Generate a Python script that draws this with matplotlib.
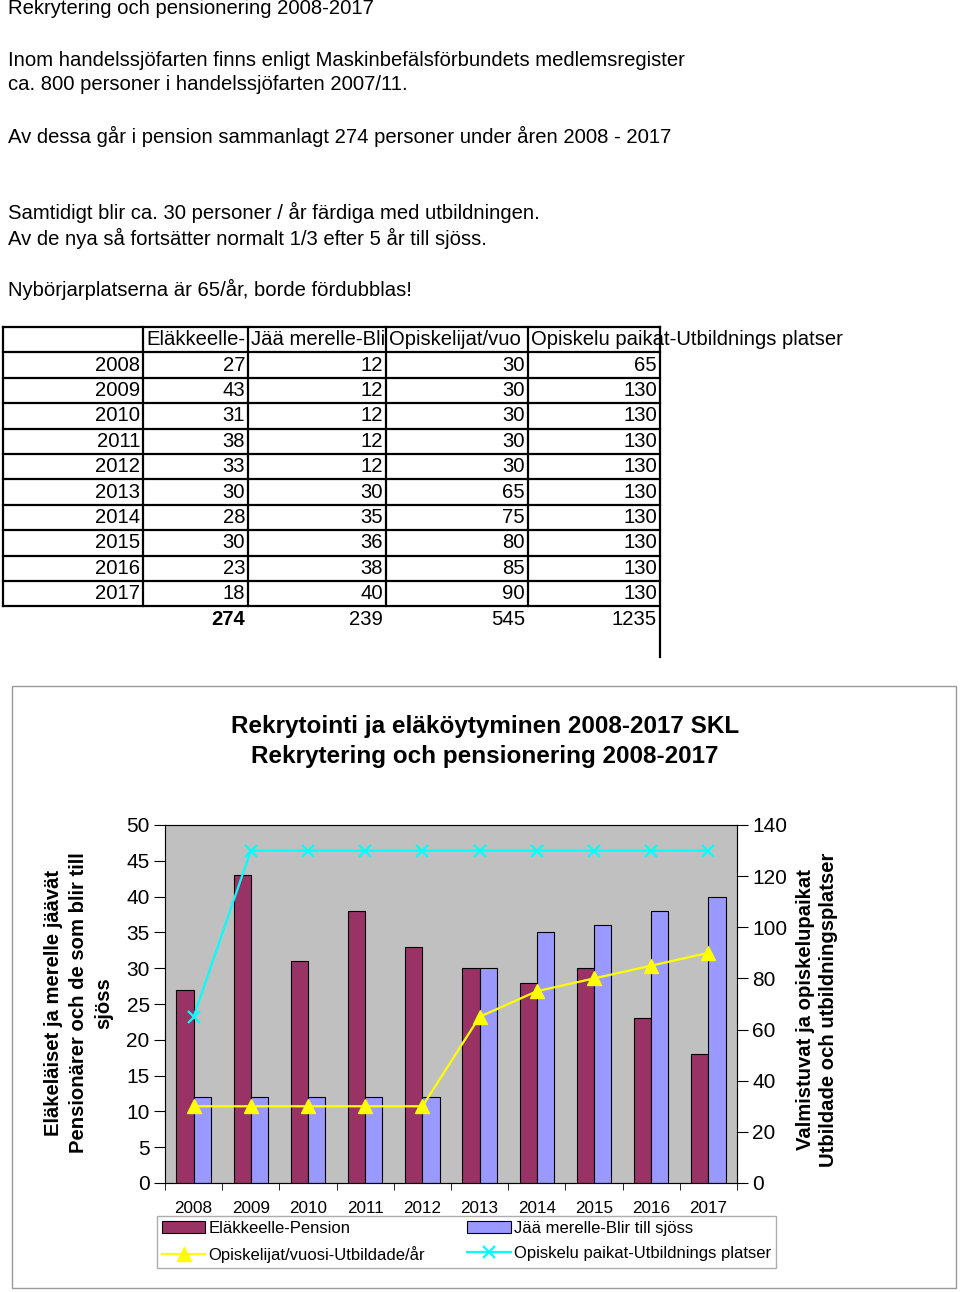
import numpy as np
import matplotlib
matplotlib.use('Agg')
import matplotlib.pyplot as plt
from matplotlib.lines import Line2D
from matplotlib.patches import Rectangle

plt.rcParams['font.family'] = ['Liberation Sans', 'DejaVu Sans']

years = ['2008', '2009', '2010', '2011', '2012', '2013', '2014', '2015', '2016', '2017']
pension = [27, 43, 31, 38, 33, 30, 28, 30, 23, 18]
sea = [12, 12, 12, 12, 12, 30, 35, 36, 38, 40]
students = [30, 30, 30, 30, 30, 65, 75, 80, 85, 90]
places = [65, 130, 130, 130, 130, 130, 130, 130, 130, 130]
totals = [274, 239, 545, 1235]  # as printed in the sheet
names = ['Eläkkeelle-Pension', 'Jää merelle-Blir till sjöss',
         'Opiskelijat/vuosi-Utbildade/år', 'Opiskelu paikat-Utbildnings platser']

intro = [
    (9, 'Rekrytering och pensionering 2008-2017'),
    (60, 'Inom handelssjöfarten finns enligt Maskinbefälsförbundets medlemsregister'),
    (85, 'ca. 800 personer i handelssjöfarten 2007/11.'),
    (136, 'Av dessa går i pension sammanlagt 274 personer under åren 2008 - 2017'),
    (212, 'Samtidigt blir ca. 30 personer / år färdiga med utbildningen.'),
    (238, 'Av de nya så fortsätter normalt 1/3 efter 5 år till sjöss.'),
    (289, 'Nybörjarplatserna är 65/år, borde fördubblas!'),
]

W, H = 960, 1292
fig = plt.figure(figsize=(W / 100, H / 100), dpi=100)
renderer = fig.canvas.get_renderer()

# page overlay in pixel coordinates
pg = fig.add_axes([0, 0, 1, 1])
pg.set_xlim(0, W)
pg.set_ylim(H, 0)
pg.axis('off')

fs = 14.6
for y, s in intro:
    pg.text(8, y, s, fontsize=fs, va='center', ha='left')

# table
cols = [3, 143, 248, 386, 528, 660]
row0 = 327
rh = 25.4
nrows = len(years) + 1
for i in range(nrows + 1):
    y = row0 + i * rh
    pg.add_line(Line2D([cols[0], cols[-1]], [y, y], color='black', lw=1.6))
for j, x in enumerate(cols):
    y1 = 657 if j == len(cols) - 1 else row0 + nrows * rh
    pg.add_line(Line2D([x, x], [row0, y1], color='black', lw=1.6))

# header cells: cut to the column width like the spreadsheet does
for j, nm in enumerate(names):
    t = pg.text(cols[j + 1] + 3, row0 + rh / 2, nm, fontsize=fs, va='center', ha='left')
    if j < len(names) - 1:
        room = cols[j + 2] - cols[j + 1] - 3
        s = nm
        while t.get_window_extent(renderer).width > room and len(s) > 1:
            s = s[:-1]
            t.set_text(s)

table_cols = [pension, sea, students, places]
for i, yr in enumerate(years):
    yc = row0 + (i + 1.5) * rh
    pg.text(cols[1] - 3, yc, yr, fontsize=fs, va='center', ha='right')
    for j, vals in enumerate(table_cols):
        pg.text(cols[j + 2] - 3, yc, str(vals[i]), fontsize=fs, va='center', ha='right')
yc = row0 + (nrows + 0.5) * rh
for j, tot in enumerate(totals):
    pg.text(cols[j + 2] - 3, yc, str(tot), fontsize=fs, va='center', ha='right',
            fontweight='bold' if j == 0 else 'normal')

# chart frame and titles
pg.add_patch(Rectangle((12, 686), 944, 602, fill=False, edgecolor='#999999', lw=1))
pg.text(485, 726, 'Rekrytointi ja eläköytyminen 2008-2017 SKL', fontsize=17.5,
        fontweight='bold', ha='center', va='center')
pg.text(485, 757, 'Rekrytering och pensionering 2008-2017', fontsize=17.5,
        fontweight='bold', ha='center', va='center')
pg.text(79, 1003, 'Eläkeläiset ja merelle jäävät\nPensionärer och de som blir till\nsjöss',
        fontsize=14.6, fontweight='bold', rotation=90, ha='center', va='center',
        multialignment='center', linespacing=1.4)
pg.text(817, 1010, 'Valmistuvat ja opiskelupaikat\nUtbildade och utbildningsplatser',
        fontsize=14.6, fontweight='bold', rotation=90, ha='center', va='center',
        multialignment='center', linespacing=1.3)

# chart axes
ax = fig.add_axes([165 / W, 1 - 1183 / H, 572 / W, 358 / H])
ax.set_facecolor('#C0C0C0')
x = np.arange(len(years))
bw = 0.3
ax.bar(x - bw / 2, pension, bw, color='#993366', edgecolor='black', lw=0.8, label=names[0])
ax.bar(x + bw / 2, sea, bw, color='#9999FF', edgecolor='black', lw=0.8, label=names[1])
ax.set_xlim(-0.5, len(years) - 0.5)
ax.set_ylim(0, 50)
ax.set_yticks(range(0, 51, 5))
ax.set_xticks(x)
ax.set_xticklabels(years, fontsize=12.3)
ax.set_xticks(np.arange(-0.5, len(years), 1), minor=True)
ax.tick_params(axis='x', which='major', length=0, pad=13)
ax.tick_params(axis='x', which='minor', length=5, direction='out')
ax.tick_params(axis='y', labelsize=15, length=8, direction='out', pad=3)
for sp in ax.spines.values():
    sp.set_color('#555555')

ax2 = ax.twinx()
l1, = ax2.plot(x, students, color='#FFFF00', marker='^', ms=10, lw=1.6, label=names[2])
l2, = ax2.plot(x, places, color='#00FFFF', marker='x', ms=9, mew=1.6, lw=1.6, label=names[3])
ax2.set_ylim(0, 140)
ax2.set_yticks(range(0, 141, 20))
ax2.tick_params(axis='y', labelsize=15, length=8, direction='out', pad=3)

h, lab = ax.get_legend_handles_labels()
handles = [h[0], l1, h[1], l2]
labels = [lab[0], names[2], lab[1], names[3]]
leg = fig.legend(handles, labels, ncol=2, fontsize=12, mode='expand',
                 bbox_to_anchor=(157 / W, 1 - 1268 / H, 619 / W, 53 / H), loc='lower left',
                 frameon=True, fancybox=False, borderpad=0.3, labelspacing=0.6,
                 handlelength=2.6, handletextpad=0.2, borderaxespad=0)
leg.get_frame().set_edgecolor('#999999')
leg.get_frame().set_linewidth(1)

fig.savefig('out.png', dpi=100)
